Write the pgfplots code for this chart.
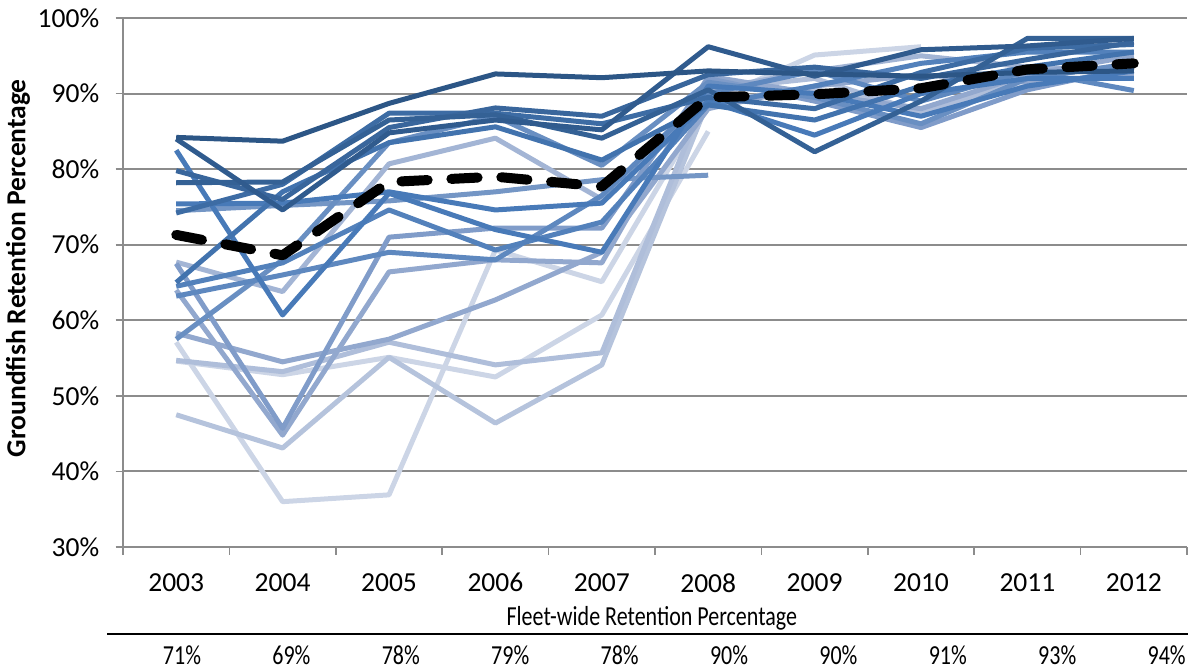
\documentclass[border=0pt]{standalone}
\usepackage{fontspec}
\setmainfont{Carlito}
\newfontfamily\tickfont{Carlito}
\newfontfamily\narrowfont[FakeStretch=0.8]{Carlito}
\usepackage{pgfplots}
\pgfplotsset{compat=1.18}
\definecolor{c0}{RGB}{44,86,134}
\definecolor{c1}{RGB}{72,122,184}
\definecolor{c2}{RGB}{146,168,206}
\definecolor{c3}{RGB}{204,213,230}
\definecolor{gridgray}{RGB}{140,140,140}
\begin{document}
\begin{tikzpicture}
\useasboundingbox (0,0) rectangle (475.2pt,267.6pt);
\begin{axis}[
 at={(49.2pt,48.8pt)}, anchor=south west,
 scale only axis, width=425.6pt, height=211.6pt,
 xmin=-0.5, xmax=9.5, ymin=30, ymax=100,
 axis lines*=left,
 axis line style={draw=gridgray, line width=0.7pt},
 ytick={30,40,...,100},
 yticklabel={\pgfmathprintnumber{\tick}\%},
 ymajorgrids, grid style={draw=gridgray, line width=0.8pt},
 xtick={-0.5,0.5,...,9.5}, xticklabels={},
 extra x ticks={0,1,...,9},
 extra x tick labels={2003,2004,2005,2006,2007,2008,2009,2010,2011,2012},
 extra x tick style={major tick length=0pt},
 tick align=outside, major tick length=3pt,
 tick style={draw=gridgray, line width=0.7pt},
 ticklabel style={font=\tickfont\fontsize{11}{13}\selectfont, text=black},
 xticklabel style={yshift=-7pt},
 yticklabel style={xshift=-3pt},
 /pgf/number format/assume math mode=true,
 xlabel={Fleet-wide Retention Percentage},
 xlabel style={at={(axis description cs:0.497,-0.134)}, anchor=center, font=\narrowfont\fontsize{11}{13}\selectfont},
 ylabel={Groundfish Retention Percentage},
 ylabel style={at={(axis description cs:-0.0987,0.527)}, anchor=center, font=\tickfont\bfseries\fontsize{11}{13}\selectfont},
 every axis plot/.append style={line width=2pt, line join=round, mark=none},
]
% lightest first
\addplot[color=c3] coordinates {(0,57.1)(1,36.0)(2,36.9)(3,69.3)(4,65.1)(5,88.9)(6,95.1)(7,96.2)};
\addplot[color=c3] coordinates {(0,54.6)(1,52.8)(2,55.1)(3,52.5)(4,60.7)(5,85.0)};
\addplot[color=c2!40!c3] coordinates {(0,47.5)(1,43.1)(2,55.1)(3,46.4)(4,54.1)(5,89.0)(6,90.5)(7,88.0)(8,91.0)(9,93.0)};
\addplot[color=c2!50!c3] coordinates {(0,54.7)(1,53.2)(2,57.1)(3,54.1)(4,55.7)(5,90.5)(6,92.0)(7,87.5)(8,92.0)(9,94.0)};
\addplot[color=c2!70!c3] coordinates {(0,67.7)(1,63.8)(2,80.7)(3,84.1)(4,76.0)(5,90.5)(6,93.0)(7,95.0)(8,93.5)(9,93.0)};
\addplot[color=c2] coordinates {(0,64.0)(1,44.8)(2,66.4)(3,68.0)(4,67.6)(5,92.3)(6,90.0)(7,88.0)(8,92.5)(9,95.0)};
\addplot[color=c2] coordinates {(0,58.3)(1,54.5)(2,57.5)(3,62.7)(4,69.0)(5,88.0)(6,91.0)(7,92.5)(8,91.5)(9,92.5)};
\addplot[color=c1!25!c2] coordinates {(0,67.5)(1,45.7)(2,71.0)(3,72.2)(4,72.2)(5,92.0)(6,89.0)(7,85.5)(8,90.5)(9,93.5)};
\addplot[color=c1!40!c2] coordinates {(0,74.5)(1,75.2)(2,75.8)(3,77.0)(4,78.6)(5,79.2)};
\addplot[color=c1!55!c2] coordinates {(0,57.5)(1,68.0)(2,83.5)(3,87.0)(4,80.5)(5,91.5)(6,89.5)(7,86.0)(8,92.0)(9,94.0)};
\addplot[color=c1!70!c2] coordinates {(0,63.2)(1,66.0)(2,69.0)(3,68.0)(4,76.5)(5,90.0)(6,93.0)(7,89.0)(8,93.0)(9,90.4)};
\addplot[color=c1!85!c2] coordinates {(0,64.5)(1,67.6)(2,74.6)(3,69.3)(4,73.0)(5,88.5)(6,91.0)(7,94.0)(8,95.5)(9,95.5)};
\addplot[color=c1] coordinates {(0,75.4)(1,75.5)(2,77.0)(3,74.6)(4,75.5)(5,89.0)(6,84.5)(7,90.0)(8,92.0)(9,92.0)};
\addplot[color=c1] coordinates {(0,82.5)(1,60.7)(2,76.8)(3,72.0)(4,69.0)(5,91.0)(6,90.0)(7,87.0)(8,91.0)(9,93.0)};
\addplot[color=c0!20!c1] coordinates {(0,65.0)(1,77.0)(2,83.5)(3,85.6)(4,81.2)(5,88.5)(6,86.5)(7,91.0)(8,93.5)(9,95.5)};
\addplot[color=c0!40!c1] coordinates {(0,74.2)(1,78.0)(2,87.4)(3,87.4)(4,86.0)(5,89.5)(6,88.0)(7,92.8)(8,96.0)(9,96.5)};
\addplot[color=c0!55!c1] coordinates {(0,79.8)(1,76.0)(2,85.5)(3,88.1)(4,87.0)(5,92.5)(6,93.5)(7,92.0)(8,94.5)(9,96.8)};
\addplot[color=c0!70!c1] coordinates {(0,78.2)(1,78.3)(2,86.5)(3,87.2)(4,84.1)(5,90.5)(6,82.3)(7,89.0)(8,97.3)(9,97.3)};
\addplot[color=c0!85!c1] coordinates {(0,84.0)(1,74.6)(2,84.8)(3,86.5)(4,85.2)(5,96.2)(6,92.3)(7,95.8)(8,96.3)(9,97.3)};
\addplot[color=c0] coordinates {(0,84.2)(1,83.7)(2,88.7)(3,92.6)(4,92.1)(5,93.0)(6,92.6)(7,92.3)(8,92.8)(9,93.0)};
% fleet-wide
\addplot[color=black, line width=4pt, line cap=round, dash pattern=on 10.5pt off 9.5pt] coordinates {(0,71.3)(1,68.6)(2,78.3)(3,79.0)(4,77.7)(5,89.5)(6,89.9)(7,90.7)(8,93.2)(9,94.0)};
\end{axis}
\draw[line width=1.1pt] (42.8pt,14pt) -- (475.2pt,14pt);
\foreach \v [count=\i from 0] in {71,69,78,79,78,90,90,91,93,94}
  \node[font=\narrowfont\fontsize{11}{13}\selectfont, anchor=center, inner sep=0pt] at ({72.8pt+43.76pt*\i},5.6pt) {\v\%};
\end{tikzpicture}
\end{document}
